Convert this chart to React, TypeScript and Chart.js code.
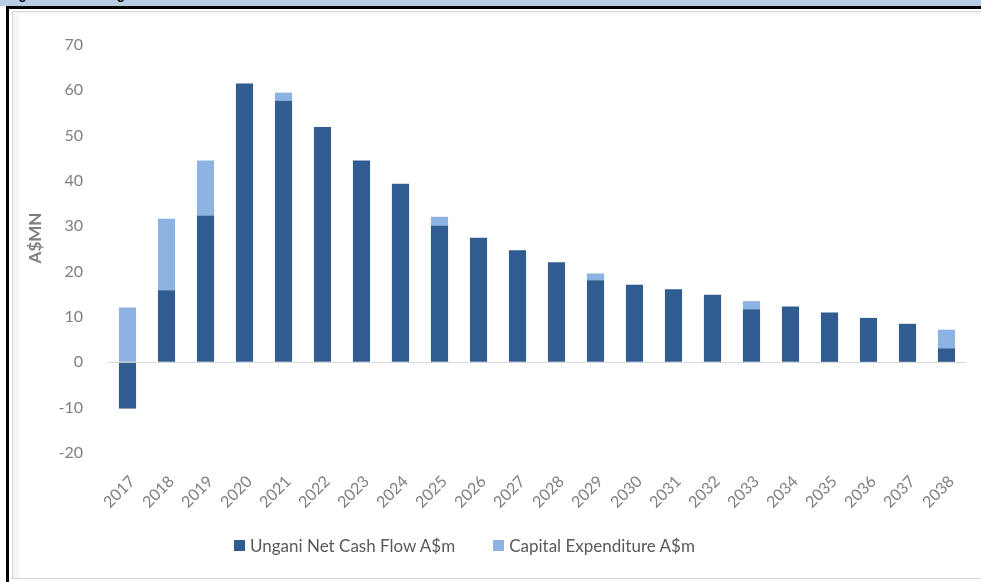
import React, { useEffect, useRef } from "react";
import { Chart, registerables } from "chart.js";

Chart.register(...registerables);

// Production years shown on the category axis
const years = [
  "2017", "2018", "2019", "2020", "2021", "2022", "2023", "2024", "2025", "2026", "2027",
  "2028", "2029", "2030", "2031", "2032", "2033", "2034", "2035", "2036", "2037", "2038",
];

// Ungani net cash flow, A$ million
const netCashFlow = [
  -10.2, 15.9, 32.4, 61.5, 57.7, 51.9, 44.5, 39.4, 30.2, 27.5, 24.7,
  22.1, 18.1, 17.1, 16.1, 14.9, 11.7, 12.3, 11.0, 9.8, 8.5, 3.1,
];

// Capital expenditure, A$ million (stacked on top of the cash flow)
const capitalExpenditure = [
  12.1, 15.8, 12.1, 0, 1.8, 0, 0, 0, 1.9, 0, 0,
  0, 1.5, 0, 0, 0, 1.8, 0, 0, 0, 0, 4.1,
];

const seriesNames = ["Ungani Net Cash Flow A$m", "Capital Expenditure A$m"];
const seriesColors = ["#315c91", "#8db3e2"];
const yAxisTitle = "A$MN";
const yMin = -20;
const yMax = 70;
const yStep = 10;
const caption = "Figure 16: The Ungani Net Cash Flow";

const FONT = "Lato, 'Open Sans', sans-serif";
const GREY = "#7f7f7f";

// Rotated value-axis title, placed left of the tick labels
const yTitlePlugin = {
  id: "yTitle",
  afterDraw(chart: any) {
    const { ctx, chartArea } = chart;
    ctx.save();
    ctx.translate(chartArea.left - 72, 238);
    ctx.rotate(-Math.PI / 2);
    ctx.font = `bold 17px ${FONT}`;
    ctx.fillStyle = GREY;
    ctx.textAlign = "center";
    ctx.textBaseline = "middle";
    ctx.fillText(yAxisTitle, 0, 0);
    ctx.restore();
  },
};

function CashFlowChart() {
  const canvasRef = useRef<HTMLCanvasElement | null>(null);

  useEffect(() => {
    const canvas = canvasRef.current;
    if (!canvas) return;
    const chart = new Chart(canvas, {
      type: "bar",
      data: {
        labels: years,
        datasets: [
          { label: seriesNames[0], data: netCashFlow, backgroundColor: seriesColors[0], borderWidth: 0 },
          { label: seriesNames[1], data: capitalExpenditure, backgroundColor: seriesColors[1], borderWidth: 0 },
        ],
      },
      options: {
        animation: false,
        responsive: false,
        maintainAspectRatio: false,
        layout: { padding: { left: 0, right: 15, top: 45, bottom: 67 } },
        datasets: {
          bar: { categoryPercentage: 1, barPercentage: 0.44 },
        },
        scales: {
          x: {
            stacked: true,
            grid: { display: false },
            border: { display: false },
            ticks: {
              autoSkip: false,
              minRotation: 45,
              maxRotation: 45,
              labelOffset: 5,
              padding: 11,
              color: GREY,
              font: { family: FONT, size: 16 },
            },
            afterFit(scale: any) {
              scale.height = 62;
            },
          },
          y: {
            stacked: true,
            min: yMin,
            max: yMax,
            grid: {
              drawTicks: false,
              color: (c: any) => (c.tick && c.tick.value === 0 ? "#d9d9d9" : "rgba(0,0,0,0)"),
            },
            border: { display: false },
            ticks: {
              stepSize: yStep,
              padding: 25,
              color: GREY,
              font: { family: FONT, size: 16 },
            },
            afterFit(scale: any) {
              scale.width = 108;
            },
          },
        },
        plugins: {
          legend: { display: false },
          tooltip: { enabled: false },
        },
      },
      plugins: [yTitlePlugin],
    });
    return () => chart.destroy();
  }, []);

  return (
    <canvas
      ref={canvasRef}
      width={981}
      height={582}
      style={{ position: "absolute", left: 0, top: 0, width: 981, height: 582 }}
    />
  );
}

function Legend() {
  return (
    <div
      style={{
        position: "absolute",
        left: 234,
        top: 534,
        height: 22,
        display: "flex",
        alignItems: "center",
        font: `17px ${FONT}`,
        color: "#595959",
        whiteSpace: "nowrap",
      }}
    >
      {seriesNames.map((name, i) => (
        <div key={name} style={{ display: "flex", alignItems: "center", marginRight: i === 0 ? 38 : 0 }}>
          <span style={{ width: 11, height: 11, background: seriesColors[i], marginRight: 5, display: "inline-block" }} />
          <span>{name}</span>
        </div>
      ))}
    </div>
  );
}

export default function App() {
  return (
    <div
      style={{
        position: "absolute",
        left: 0,
        top: 0,
        width: 981,
        height: 582,
        overflow: "hidden",
        background: "#ffffff",
      }}
    >
      <div
        style={{
          position: "absolute",
          left: 0,
          top: 0,
          width: 981,
          height: 6,
          background: "#b8cce4",
          overflow: "hidden",
        }}
      >
        <span
          style={{
            position: "absolute",
            left: 7,
            top: -12,
            font: "bold 13px 'Liberation Sans', Arial, sans-serif",
            lineHeight: "13px",
            whiteSpace: "nowrap",
            color: "#000",
          }}
        >
          {caption}
        </span>
      </div>
      <div style={{ position: "absolute", left: 6, top: 6, width: 975, height: 3, background: "#000" }} />
      <div style={{ position: "absolute", left: 6, top: 6, width: 3, height: 576, background: "#000" }} />
      <div
        style={{
          position: "absolute",
          left: 12,
          top: 11,
          width: 990,
          height: 566,
          border: "1px solid #d4d4d4",
          boxShadow: "inset 6px 2px 0 #f6f6f6",
        }}
      />
      <CashFlowChart />
      <Legend />
    </div>
  );
}
